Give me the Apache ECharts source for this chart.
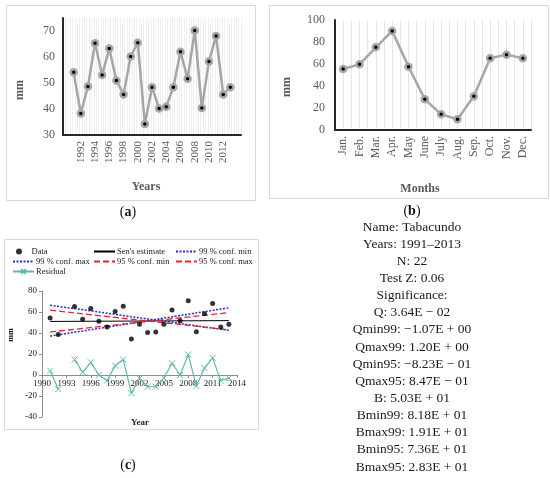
<!DOCTYPE html>
<html>
<head>
<meta charset="utf-8">
<script src="https://cdn.jsdelivr.net/npm/echarts@6/dist/echarts.min.js"></script>
<style>
html,body{margin:0;padding:0;background:#fff;}
#c{width:550px;height:478px;}
</style>
</head>
<body>
<div id="c"></div>
<script>
// ---- Data ----
const years = ['1990','1991','1992','1993','1994','1995','1996','1997','1998','1999','2000','2001','2002','2003','2004','2005','2006','2007','2008','2009','2010','2011','2012','2013','2014'];
const annualRain = [null,54.1,38.3,48.7,65.3,53.1,63.3,51.0,45.6,60.2,65.5,34.2,48.4,40.2,40.9,48.4,62.0,51.6,70.2,40.4,58.3,68.1,45.6,48.4,null];

const months = ['Jan.','Feb.','Mar.','Apr.','May','June','July','Aug.','Sep.','Oct.','Nov.','Dec.'];
const monthlyRain = [55.5,59.7,75.2,90.0,57.6,27.9,14.3,9.7,30.6,65.2,68.5,65.2];

const trendYears = [1991,1992,1994,1995,1996,1997,1998,1999,2000,2001,2002,2003,2004,2005,2006,2007,2008,2009,2010,2011,2012,2013];
const trendValues = [54.3,38.5,65.3,53.1,63.3,51.2,45.6,60.4,65.5,34.2,48.4,40.4,40.9,48.4,62.0,51.6,70.6,41.2,58.3,68.1,45.6,48.4];
const residualYears = [1991,1992,1993,1994,1995,1996,1997,1998,1999,2000,2001,2002,2003,2004,2005,2006,2007,2008,2009,2010,2011,2012,2013];
const residualValues = [4.2,-13.4,null,14.7,2.6,12.1,0.0,-5.4,8.9,14.7,-17.3,-3.2,-11.2,-11.2,-2.9,11.2,0.0,19.5,-10.5,6.7,16.3,-5.4,-2.9];
const lineYears = [1991,2013];
const senLine = [51.0,51.8];
const conf99Min = [66.5,42.5];
const conf99Max = [37.0,64.0];
const conf95Min = [61.7,43.0];
const conf95Max = [41.0,59.4];

const statsLines = ['Name: Tabacundo','Years: 1991\u20132013','N: 22','Test Z: 0.06','Significance:','Q: 3.64E \u2212 02','Qmin99: \u22121.07E + 00','Qmax99: 1.20E + 00','Qmin95: \u22128.23E \u2212 01','Qmax95: 8.47E \u2212 01','B: 5.03E + 01','Bmin99: 8.18E + 01','Bmax99: 1.91E + 01','Bmin95: 7.36E + 01','Bmax95: 2.83E + 01'];

// ---- Styles ----
const SERIF = '"Liberation Serif", "DejaVu Serif", serif';
const gray = '#595959';
const lineGray = '#a6a6a6';

function pairs(xs, ys){ return xs.map((x,i)=>[x, ys[i]]); }

const chart = echarts.init(document.getElementById('c'), null, {renderer:'canvas'});

const graphic = [
  {type:'rect', shape:{x:6.5,y:5.5,width:249,height:195}, style:{fill:'none',stroke:'#d9d9d9',lineWidth:1}, z:-1},
  {type:'rect', shape:{x:269.5,y:5.5,width:279,height:193}, style:{fill:'none',stroke:'#d9d9d9',lineWidth:1}, z:-1},
  {type:'rect', shape:{x:4.5,y:239.5,width:254,height:190}, style:{fill:'none',stroke:'#d9d9d9',lineWidth:1}, z:-1},
  {type:'text', x:20, y:90, rotation:Math.PI/2, style:{text:'mm', font:'bold 12px '+SERIF, fill:gray, align:'center', verticalAlign:'middle'}},
  {type:'text', x:146, y:187, style:{text:'Years', font:'bold 12px '+SERIF, fill:gray, align:'center', verticalAlign:'middle'}},
  {type:'text', x:287, y:87, rotation:Math.PI/2, style:{text:'mm', font:'bold 12px '+SERIF, fill:gray, align:'center', verticalAlign:'middle'}},
  {type:'text', x:420, y:189, style:{text:'Months', font:'bold 12px '+SERIF, fill:gray, align:'center', verticalAlign:'middle'}},
  {type:'text', x:11, y:335, rotation:Math.PI/2, style:{text:'mm', font:'bold 8px '+SERIF, fill:'#222', align:'center', verticalAlign:'middle'}},
  {type:'text', x:140, y:423, style:{text:'Year', font:'bold 9px '+SERIF, fill:'#222', align:'center', verticalAlign:'middle'}},
  {type:'text', x:128, y:212, style:{text:'({b|a})', rich:{b:{fontWeight:'bold', fontSize:14, fontFamily:SERIF, fill:'#111'}}, font:'14px '+SERIF, fill:'#111', align:'center', verticalAlign:'middle'}},
  {type:'text', x:412, y:211, style:{text:'({b|b})', rich:{b:{fontWeight:'bold', fontSize:14, fontFamily:SERIF, fill:'#111'}}, font:'14px '+SERIF, fill:'#111', align:'center', verticalAlign:'middle'}},
  {type:'text', x:128, y:465, style:{text:'({b|c})', rich:{b:{fontWeight:'bold', fontSize:14, fontFamily:SERIF, fill:'#111'}}, font:'14px '+SERIF, fill:'#111', align:'center', verticalAlign:'middle'}}
];
statsLines.forEach((t,i)=>{
  graphic.push({type:'text', x:412, y:227 + i*17.15, style:{text:t, font:'13.5px '+SERIF, fill:'#1a1a1a', align:'center', verticalAlign:'middle'}});
});

function legendAt(name, left, top, lineOnly){
  const l = {data:[name], left:left, top:top, itemWidth:21, itemHeight:6, itemGap:0, padding:0,
    textStyle:{fontSize:8.5, fontFamily:SERIF, color:'#222', padding:[0,0,0,-3]}};
  if (lineOnly) l.itemStyle = {opacity:0};
  return l;
}

const option = {
  animation:false,
  backgroundColor:'#fff',
  graphic: graphic,
  legend: [
    legendAt('Data', 16, 247, false),
    legendAt("Sen's estimate", 93, 247, true),
    legendAt('99 % conf. min', 175, 247, true),
    legendAt('99 % conf. max', 12, 257, true),
    legendAt('95 % conf. min', 93, 257, true),
    legendAt('95 % conf. max', 175, 257, true),
    legendAt('Residual', 12, 267, false)
  ],
  grid: [
    {left:63, right:309, top:18, bottom:343},
    {left:335, right:19, top:20, bottom:348},
    {left:42, right:313, top:291, bottom:61}
  ],
  xAxis: [
    {gridIndex:0, type:'category', data:years, boundaryGap:true,
      axisLine:{lineStyle:{color:'#262626', width:2}}, axisTick:{show:false},
      axisLabel:{rotate:90, fontSize:11, fontFamily:SERIF, color:gray, margin:6,
        interval:function(i, v){ const y=+v; return y%2===0 && y>=1992 && y<=2012; }},
      splitLine:{show:false}},
    {gridIndex:0, type:'value', min:0, max:75, interval:1,
      axisLine:{show:false}, axisTick:{show:false}, axisLabel:{show:false},
      splitLine:{show:true, lineStyle:{color:'#efefef', width:1}}},
    {gridIndex:1, type:'category', data:months, boundaryGap:true,
      axisLine:{lineStyle:{color:'#262626', width:2}}, axisTick:{show:false},
      axisLabel:{rotate:90, fontSize:12, fontFamily:SERIF, color:gray, margin:6, interval:0},
      splitLine:{show:false}},
    {gridIndex:1, type:'value', min:0, max:24, interval:1,
      axisLine:{show:false}, axisTick:{show:false}, axisLabel:{show:false},
      splitLine:{show:true, lineStyle:{color:'#e6e6e6', width:1}}},
    {gridIndex:2, type:'value', min:1990, max:2014, interval:3, position:'bottom', offset:-42,
      axisLine:{onZero:false, lineStyle:{color:'#8c8c8c', width:1}},
      axisTick:{show:true, inside:false, length:3, lineStyle:{color:'#8c8c8c'}},
      axisLabel:{fontSize:9, fontFamily:SERIF, color:'#222', margin:4, formatter:function(v){ return String(v); }},
      splitLine:{show:false}}
  ],
  yAxis: [
    {gridIndex:0, type:'value', min:30, max:75, interval:10,
      axisLine:{show:true, lineStyle:{color:'#262626', width:2}}, axisTick:{show:false},
      axisLabel:{fontSize:12, fontFamily:SERIF, color:gray, margin:8,
        formatter:function(v){ return v%10===0 ? String(v) : ''; }},
      splitLine:{show:false}},
    {gridIndex:1, type:'value', min:0, max:100, interval:20,
      axisLine:{show:true, lineStyle:{color:'#262626', width:2}}, axisTick:{show:false},
      axisLabel:{fontSize:12, fontFamily:SERIF, color:gray, margin:10},
      splitLine:{show:false}},
    {gridIndex:2, type:'value', min:-40, max:80, interval:20,
      axisLine:{show:true, lineStyle:{color:'#8c8c8c', width:1}},
      axisTick:{show:true, inside:false, length:3, lineStyle:{color:'#8c8c8c'}},
      axisLabel:{fontSize:9, fontFamily:SERIF, color:'#222', margin:5},
      splitLine:{show:false}}
  ],
  series: [
    {type:'line', xAxisIndex:0, yAxisIndex:0, data:annualRain, connectNulls:false,
      lineStyle:{color:lineGray, width:2.5}, symbol:'circle', symbolSize:6, showAllSymbol:true,
      itemStyle:{color:'#000', borderColor:lineGray, borderWidth:2.5}},
    {type:'line', xAxisIndex:2, yAxisIndex:1, data:monthlyRain,
      lineStyle:{color:lineGray, width:2.5}, symbol:'circle', symbolSize:6, showAllSymbol:true,
      itemStyle:{color:'#000', borderColor:lineGray, borderWidth:2.5}},
    {name:'Data', type:'scatter', xAxisIndex:4, yAxisIndex:2, data:pairs(trendYears, trendValues),
      symbol:'circle', symbolSize:5, itemStyle:{color:'#000'}, z:5},
    {name:"Sen's estimate", type:'line', xAxisIndex:4, yAxisIndex:2, data:pairs(lineYears, senLine),
      symbol:'none', lineStyle:{color:'#000', width:1}},
    {name:'99 % conf. min', type:'line', xAxisIndex:4, yAxisIndex:2, data:pairs(lineYears, conf99Min),
      symbol:'none', lineStyle:{color:'#2a2ad0', width:1.5, type:[2,1.5]}},
    {name:'99 % conf. max', type:'line', xAxisIndex:4, yAxisIndex:2, data:pairs(lineYears, conf99Max),
      symbol:'none', lineStyle:{color:'#2a2ad0', width:1.5, type:[2,1.5]}},
    {name:'95 % conf. min', type:'line', xAxisIndex:4, yAxisIndex:2, data:pairs(lineYears, conf95Min),
      symbol:'none', lineStyle:{color:'#e8242a', width:1.3, type:[6,3]}},
    {name:'95 % conf. max', type:'line', xAxisIndex:4, yAxisIndex:2, data:pairs(lineYears, conf95Max),
      symbol:'none', lineStyle:{color:'#e8242a', width:1.3, type:[6,3]}},
    {name:'Residual', type:'line', xAxisIndex:4, yAxisIndex:2, data:pairs(residualYears, residualValues),
      connectNulls:false, lineStyle:{color:'#5fb8a8', width:1.2},
      symbol:'path://M0,0L10,10M10,0L0,10', symbolSize:6, showAllSymbol:true,
      itemStyle:{color:'#5fb8a8', borderColor:'#5fb8a8', borderWidth:1}}
  ]
};
chart.setOption(option);
</script>
</body>
</html>
